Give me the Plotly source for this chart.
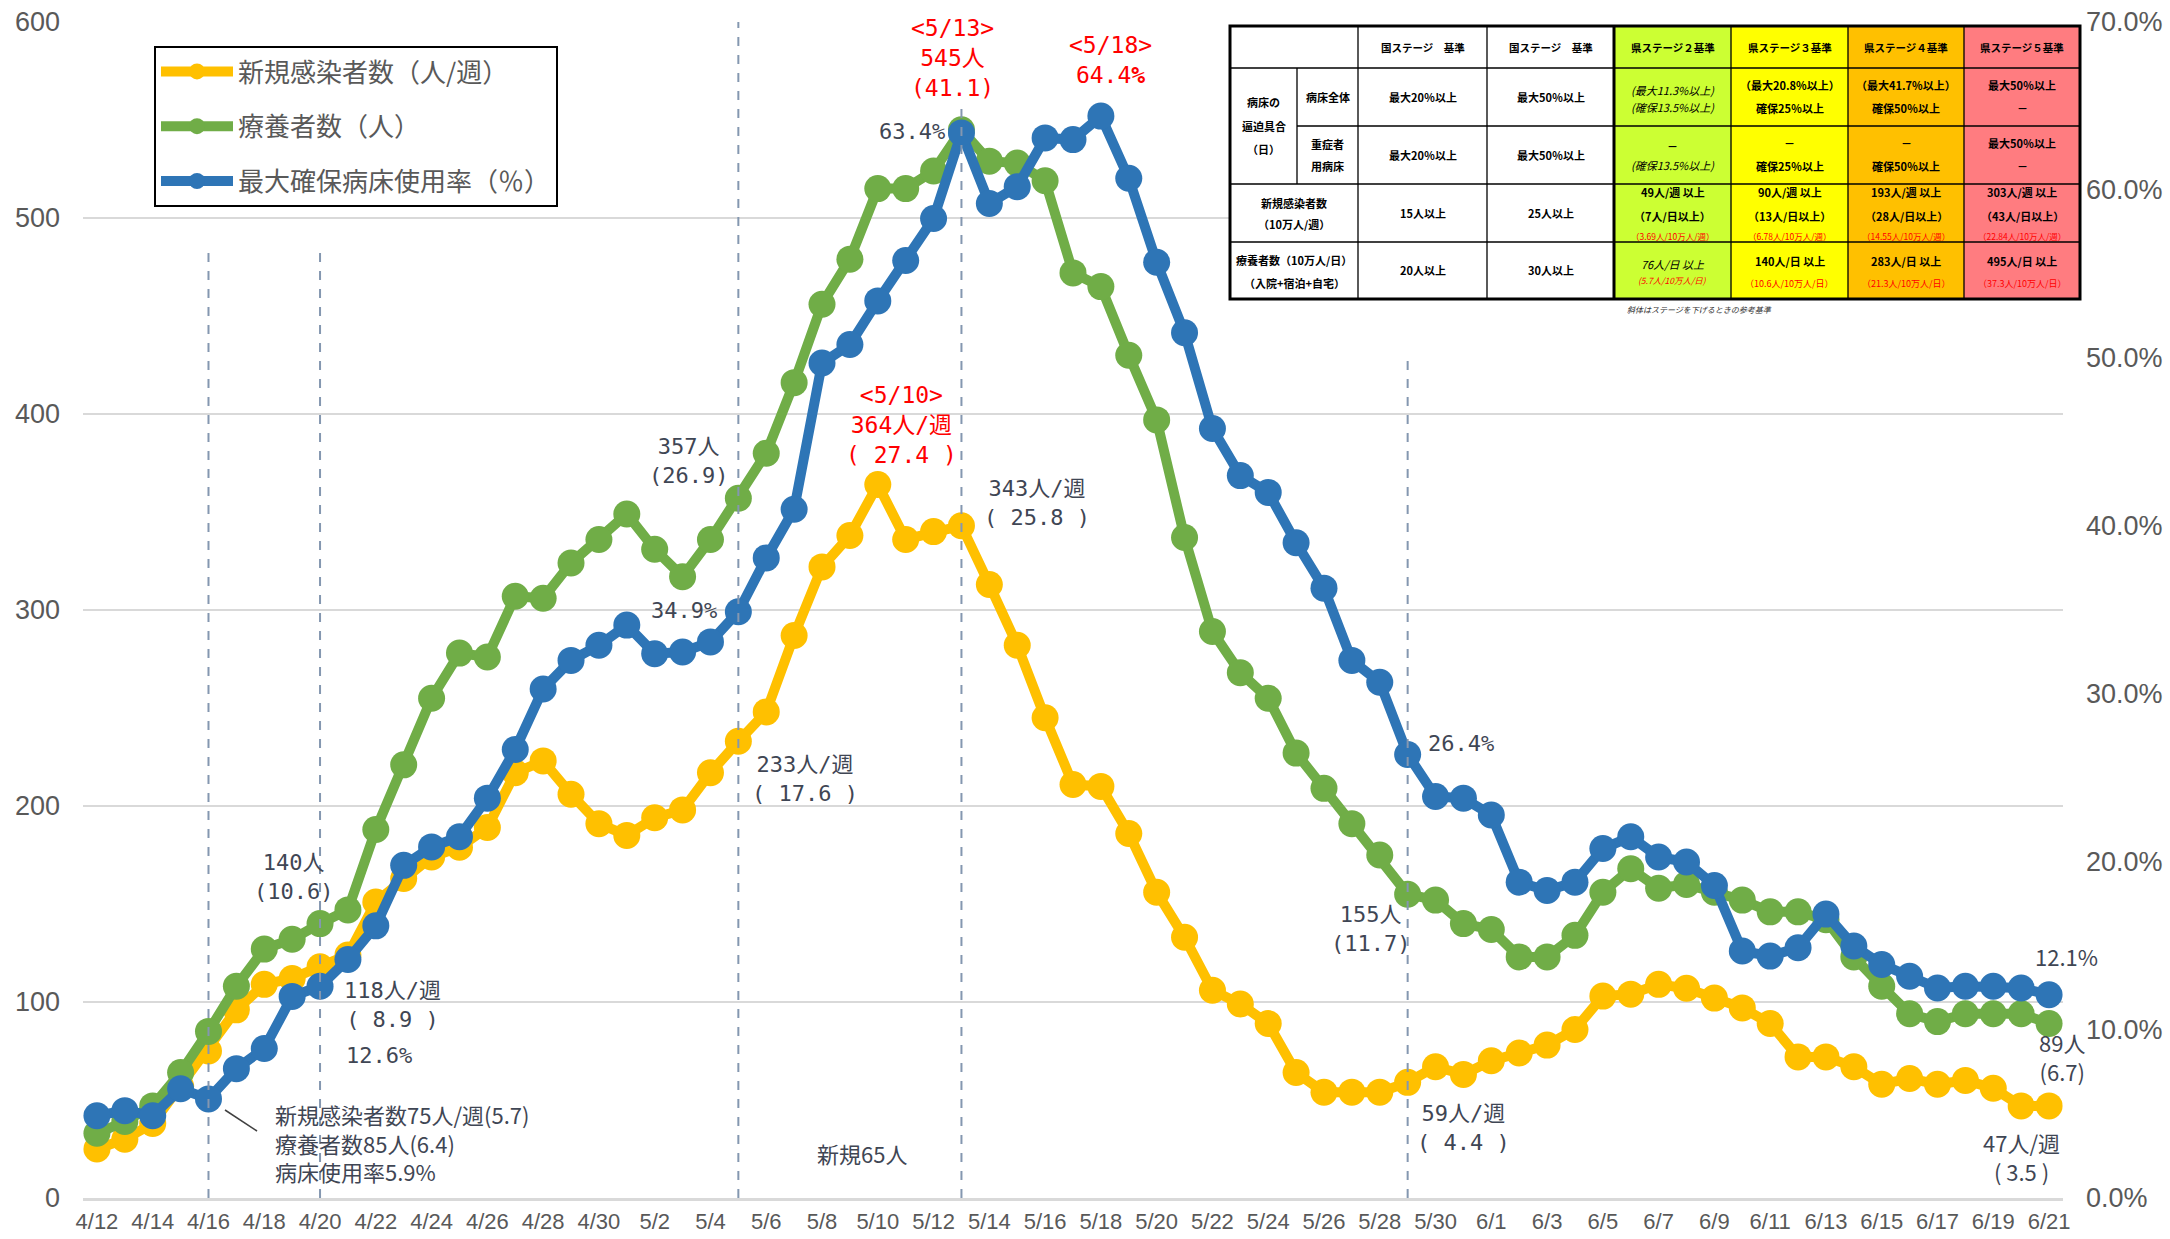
import plotly.graph_objects as go

# ---------------- data ----------------
dates = ["4/12","4/13","4/14","4/15","4/16","4/17","4/18","4/19","4/20","4/21","4/22","4/23","4/24","4/25","4/26","4/27","4/28","4/29","4/30",
         "5/1","5/2","5/3","5/4","5/5","5/6","5/7","5/8","5/9","5/10","5/11","5/12","5/13","5/14","5/15","5/16","5/17","5/18","5/19","5/20",
         "5/21","5/22","5/23","5/24","5/25","5/26","5/27","5/28","5/29","5/30","5/31",
         "6/1","6/2","6/3","6/4","6/5","6/6","6/7","6/8","6/9","6/10","6/11","6/12","6/13","6/14","6/15","6/16","6/17","6/18","6/19","6/20","6/21"]

tick_labels = ["4/12","4/14","4/16","4/18","4/20","4/22","4/24","4/26","4/28","4/30","5/2","5/4","5/6","5/8","5/10","5/12",
               "5/14","5/16","5/18","5/20","5/22","5/24","5/26","5/28","5/30","6/1","6/3","6/5","6/7","6/9","6/11","6/13",
               "6/15","6/17","6/19","6/21"]

new_cases_week = [25,30,38,57,75,96,109,112,118,124,151,163,174,179,189,217,223,206,191,
                  185,194,198,217,233,248,287,322,338,364,336,340,343,313,282,245,211,210,186,156,
                  133,106,99,89,64,54,54,54,59,67,63,
                  70,74,78,86,103,104,109,107,102,97,89,72,72,67,58,61,58,60,56,47,47]

patients = [33,39,47,64,85,108,127,132,140,147,188,221,255,278,276,307,306,324,336,
            349,331,317,336,357,380,416,456,479,515,515,524,545,529,528,519,472,465,430,397,
            337,289,268,255,227,209,191,175,155,152,140,
            137,123,123,134,156,168,158,160,156,152,146,146,142,123,108,94,90,94,94,94,89]

bed_rate = [4.9,5.2,4.9,6.5,5.9,7.7,8.9,12.0,12.6,14.2,16.2,19.8,20.9,21.5,23.8,26.7,30.3,32.0,32.9,
            34.1,32.4,32.5,33.1,34.9,38.1,41.0,49.7,50.8,53.4,55.8,58.3,63.4,59.2,60.2,63.1,63.0,64.4,60.7,55.7,
            51.5,45.8,43.0,42.0,39.0,36.3,32.0,30.7,26.4,23.9,23.8,
            22.8,18.8,18.3,18.8,20.8,21.5,20.3,20.0,18.6,14.7,14.4,14.9,16.9,15.0,13.9,13.2,12.5,12.6,12.6,12.5,12.1]

series_names = ["新規感染者数（人/週）", "療養者数（人）", "最大確保病床使用率（％）"]
marker_dates = ["4/16", "4/20", "5/5", "5/13", "5/29"]

# ---------------- styling ----------------
YELLOW, GREEN, BLUE = "#FFC000", "#70AD47", "#2E75B6"
TXT = "#3F4654"
TICK = "#595959"
FONT = "Noto Sans CJK JP"
MONO = "DejaVu Sans Mono, Noto Sans CJK JP"
TICKFONT = "Liberation Sans Narrow, Arial Narrow, Liberation Sans, Arial"

W, H = 2170, 1239
L, T, R, B = 83, 22, 2063, 1198


def px(x):
    return (x - L) / (R - L)


def py(y):
    return (B - y) / (B - T)


fig = go.Figure()
for vals, name, col, ax, grp in [(new_cases_week, series_names[0], YELLOW, "y", "a"),
                                 (patients, series_names[1], GREEN, "y", "b"),
                                 (bed_rate, series_names[2], BLUE, "y2", "c")]:
    fig.add_trace(go.Scatter(x=dates, y=vals, name=name, mode="lines+markers", yaxis=ax,
                             legendgroup=grp,
                             line=dict(color=col, width=10),
                             marker=dict(color=col, size=27),
                             hoverinfo="x+y"))

shapes = []
annotations = []

# vertical dashed reference lines
vl_tops = {"4/16": 249, "4/20": 249, "5/5": 22, "5/13": 100, "5/29": 355}
for d in marker_dates:
    shapes.append(dict(type="line", xref="x", yref="paper", x0=d, x1=d, y0=0, y1=py(vl_tops[d]),
                       line=dict(color="#8497B0", width=2, dash="dash"), layer="above"))


def ann(x, y, text, size=22, color=TXT, xanchor="center", align="center", family=FONT):
    annotations.append(dict(xref="paper", yref="paper", x=px(x), y=py(y), text=text, showarrow=False,
                            xanchor=xanchor, yanchor="middle", align=align,
                            font=dict(size=size, color=color, family=family)))


ann(293, 877, "140人<br>(10.6)", family=MONO)
ann(392, 1005, "118人/週<br>( 8.9 )", family=MONO)
ann(379, 1055, "12.6%", family=MONO)
ann(273, 1142, "新規感染者数75人/週(5.7)<br>療養者数85人(6.4)<br>病床使用率5.9%", xanchor="left", align="left")
shapes.append(dict(type="line", xref="paper", yref="paper", x0=px(225), y0=py(1110), x1=px(257), y1=py(1131),
                   line=dict(color="#404040", width=1.5)))
ann(688, 461, "357人<br>(26.9)", family=MONO)
ann(684, 610, "34.9%", family=MONO)
ann(805, 779, "233人/週<br>( 17.6 )", family=MONO)
ann(862, 1153, "新規65人")
ann(901, 425, "<5/10><br>364人/週<br>( 27.4 )", size=23, color="#FF0000", family=MONO)
ann(912, 131, "63.4%", family=MONO)
ann(952, 58, "<5/13><br>545人<br>(41.1)", size=23, color="#FF0000", family=MONO)
ann(1037, 503, "343人/週<br>( 25.8 )", family=MONO)
ann(1110, 60, "<5/18><br>64.4<b>%</b>", size=23, color="#FF0000", family=MONO)
ann(1461, 743, "26.4%", family=MONO)
ann(1370, 929, "155人<br>(11.7)", family=MONO)
ann(1463, 1128, "59人/週<br>( 4.4 )", family=MONO)
ann(2066, 956, "12.1%")
ann(2062, 1056, "89人<br>(6.7)")
ann(2021, 1156, "47人/週<br>( 3.5 )")

# ---------------- criteria table ----------------
c0, c0b, c1, c2, c3, c4, c5, c6, c7 = 1230, 1297, 1358, 1487, 1614, 1731, 1848, 1964, 2080
r0, r1, r2, r3, r4, r5 = 26, 68, 126, 184, 242, 299
fills = [(c0, c3, "#FFFFFF"), (c3, c4, "#CCFF33"), (c4, c5, "#FFFF00"), (c5, c6, "#FFC000"), (c6, c7, "#FF7C80")]
for xa, xb, colr in fills:
    shapes.append(dict(type="rect", xref="paper", yref="paper", x0=px(xa), x1=px(xb), y0=py(r0), y1=py(r5),
                       fillcolor=colr, line=dict(width=0), layer="above"))


def hline(y, xa, xb, w=1.3):
    shapes.append(dict(type="line", xref="paper", yref="paper", x0=px(xa), x1=px(xb), y0=py(y), y1=py(y),
                       line=dict(color="black", width=w), layer="above"))


def vline(x, ya, yb, w=1.3):
    shapes.append(dict(type="line", xref="paper", yref="paper", x0=px(x), x1=px(x), y0=py(ya), y1=py(yb),
                       line=dict(color="black", width=w), layer="above"))


hline(r1, c0, c7)
hline(r2, c0b, c7)
hline(r3, c0, c7)
hline(r4, c0, c7)
vline(c0b, r1, r3)
for cx in (c1, c2, c4, c5, c6):
    vline(cx, r0, r5)
vline(c3, r0, r5, 3)
shapes.append(dict(type="rect", xref="paper", yref="paper", x0=px(c0), x1=px(c7), y0=py(r0), y1=py(r5),
                   line=dict(color="black", width=3), layer="above"))


def cell(x, y, text, size=11, color="black", bold=True, italic=False):
    t = text
    if bold:
        t = "<b>" + t + "</b>"
    if italic:
        t = "<i>" + t + "</i>"
    ann(x, y, t, size=size, color=color)


mx = lambda a, b: (a + b) / 2
cols = [mx(c1, c2), mx(c2, c3), mx(c3, c4), mx(c4, c5), mx(c5, c6), mx(c6, c7)]
headers = ["国ステージ　基準", "国ステージ　基準", "県ステージ２基準", "県ステージ３基準", "県ステージ４基準", "県ステージ５基準"]
for cx, h in zip(cols, headers):
    cell(cx, 47, h, size=10.5)

cell(mx(c0, c0b), 102, "病床の")
cell(mx(c0, c0b), 126, "逼迫具合")
cell(mx(c0, c0b), 149, "（日）")
cell(mx(c0b, c1), 97, "病床全体")
cell(mx(c0b, c1), 144, "重症者")
cell(mx(c0b, c1), 166, "用病床")
cell(cols[0], 97, "最大20％以上")
cell(cols[1], 97, "最大50％以上")
cell(cols[0], 155, "最大20％以上")
cell(cols[1], 155, "最大50％以上")

cell(cols[2], 90, "(最大11.3%以上)", bold=False, italic=True)
cell(cols[2], 107, "(確保13.5%以上)", bold=False, italic=True)
cell(cols[3], 85, "（最大20.8%以上）")
cell(cols[3], 108, "確保25％以上")
cell(cols[4], 85, "（最大41.7%以上）")
cell(cols[4], 108, "確保50％以上")
cell(cols[5], 85, "最大50％以上")
cell(cols[5], 108, "－")

cell(cols[2], 146, "－")
cell(cols[2], 165, "(確保13.5%以上)", bold=False, italic=True)
cell(cols[3], 143, "－")
cell(cols[3], 166, "確保25％以上")
cell(cols[4], 143, "－")
cell(cols[4], 166, "確保50％以上")
cell(cols[5], 143, "最大50％以上")
cell(cols[5], 166, "－")

cell(mx(c0, c1), 203, "新規感染者数")
cell(mx(c0, c1), 224, "（10万人/週）")
cell(cols[0], 213, "15人以上")
cell(cols[1], 213, "25人以上")
row4 = [("49人/週 以上", "（7人/日以上）", "（3.69人/10万人/週）"),
        ("90人/週 以上", "（13人/日以上）", "（6.78人/10万人/週）"),
        ("193人/週 以上", "（28人/日以上）", "（14.55人/10万人/週）"),
        ("303人/週 以上", "（43人/日以上）", "（22.84人/10万人/週）")]
for cx, (a, b, c) in zip(cols[2:], row4):
    cell(cx, 192, a)
    cell(cx, 216, b)
    cell(cx, 236, c, size=8.5, color="#FF0000", bold=False)

cell(mx(c0, c1), 260, "療養者数（10万人/日）")
cell(mx(c0, c1), 283, "（入院+宿泊+自宅）")
cell(cols[0], 270, "20人以上")
cell(cols[1], 270, "30人以上")
cell(cols[2], 264, "76人/日 以上", bold=False, italic=True)
cell(cols[2], 280, "(5.7人/10万人/日)", size=8.5, color="#FF0000", bold=False, italic=True)
row5 = [("140人/日 以上", "（10.6人/10万人/日）"),
        ("283人/日 以上", "（21.3人/10万人/日）"),
        ("495人/日 以上", "（37.3人/10万人/日）")]
for cx, (a, b) in zip(cols[3:], row5):
    cell(cx, 261, a)
    cell(cx, 283, b, size=9, color="#FF0000", bold=False)

ann(1625, 309, "<i>斜体はステージを下げるときの参考基準</i>", size=8, color="#333333", xanchor="left", align="left")

fig.update_layout(
    width=W, height=H,
    margin=dict(l=L, r=W - R, t=T, b=H - B, autoexpand=False),
    paper_bgcolor="white", plot_bgcolor="white",
    font=dict(family=FONT, color=TICK),
    showlegend=True,
    legend=dict(x=px(154), y=py(46), xanchor="left", yanchor="top",
                bgcolor="white", bordercolor="black", borderwidth=2,
                font=dict(size=26, color=TICK, family=FONT),
                itemwidth=72, tracegroupgap=18, traceorder="grouped"),
    xaxis=dict(type="category", range=[-0.5, 70.5], tickmode="array", tickvals=tick_labels, ticktext=tick_labels,
               showgrid=False, showline=True, linecolor="#D9D9D9", linewidth=3, ticks="",
               tickfont=dict(size=22, color=TICK, family=TICKFONT), ticklabelstandoff=2),
    yaxis=dict(range=[0, 600], dtick=100, showgrid=True, gridcolor="#D9D9D9", gridwidth=2,
               zeroline=False, showline=False, ticks="",
               tickfont=dict(size=27, color=TICK, family=TICKFONT), ticklabelstandoff=22),
    yaxis2=dict(range=[0, 70], dtick=10, overlaying="y", side="right", showgrid=False, zeroline=False,
                ticksuffix="%", tickformat=".1f", ticks="",
                tickfont=dict(size=27, color=TICK, family=TICKFONT), ticklabelstandoff=22),
    shapes=shapes,
    annotations=annotations,
)

fig.write_html("out.html", config={"displayModeBar": False},
               post_script="document.body.style.margin='0';document.body.style.overflow='hidden';")
